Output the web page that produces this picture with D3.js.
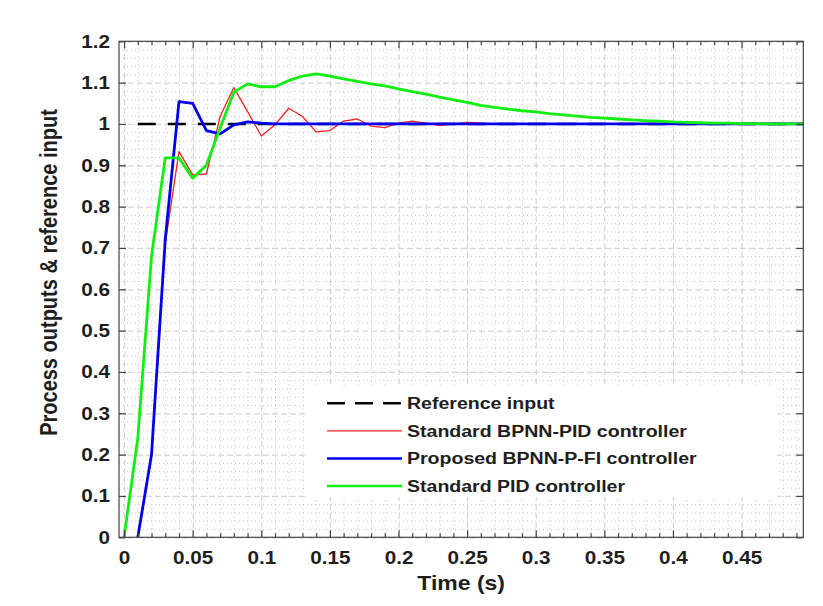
<!DOCTYPE html>
<html>
<head>
<meta charset="utf-8">
<script src="https://cdn.jsdelivr.net/npm/d3@7"></script>
<style>
  body { margin: 0; background: #fff; }
  svg { display: block; }
  text { font-family: "Liberation Sans", Arial, Helvetica, sans-serif; font-weight: bold; fill: #1e1e1e; }
</style>
</head>
<body>
<svg id="chart" width="823" height="606"></svg>
<script>
// Sample instants (s)
const timeSteps = [0.00, 0.01, 0.02, 0.03, 0.04, 0.05, 0.06, 0.07, 0.08, 0.09,
                   0.10, 0.11, 0.12, 0.13, 0.14, 0.15, 0.16, 0.17, 0.18, 0.19,
                   0.20, 0.21, 0.22, 0.23, 0.24, 0.25, 0.26, 0.27, 0.28, 0.29,
                   0.30, 0.31, 0.32, 0.33, 0.34, 0.35, 0.36, 0.37, 0.38, 0.39,
                   0.40, 0.41, 0.42, 0.43, 0.44, 0.45, 0.46, 0.47, 0.48, 0.49, 0.50];

// Reference input (unit step)
const referenceTime  = [0.01, 0.50];
const referenceValue = [1, 1];

// Standard BPNN-PID controller output
const bpnnPidOutput = [null, 0, 0.20, 0.71, 0.933, 0.877, 0.879, 1.018, 1.088, 1.030,
                       0.971, 0.998, 1.038, 1.018, 0.981, 0.984, 1.007, 1.012, 0.995, 0.991,
                       1.002, 1.007, 1.002, 0.996, 1.000, 1.004, 1.002, 1.000, 0.999, 1.000,
                       1, 1, 1, 1, 1, 1, 1, 1, 1, 1,
                       1, 1, 1, 1, 1, 1, 1, 1, 1, 1, 1];

// Proposed BPNN-P-FI controller output
const proposedOutput = [null, 0, 0.20, 0.72, 1.054, 1.050, 0.984, 0.976, 0.998, 1.005,
                        1.002, 1, 1, 1, 1, 1, 1, 1, 1, 1,
                        1, 1, 1, 1, 1, 1, 1, 1, 1, 1,
                        1, 1, 1, 1, 1, 1, 1, 1, 1, 1,
                        1, 1, 1, 1, 1, 1, 1, 1, 1, 1, 1];

// Standard PID controller output
const pidOutput = [0, 0.24, 0.68, 0.918, 0.918, 0.869, 0.900, 0.990, 1.077, 1.097,
                   1.090, 1.090, 1.105, 1.116, 1.121, 1.116, 1.109, 1.103, 1.097, 1.092,
                   1.085, 1.078, 1.072, 1.065, 1.058, 1.052, 1.045, 1.040, 1.036, 1.032,
                   1.029, 1.025, 1.022, 1.019, 1.016, 1.014, 1.012, 1.010, 1.008, 1.007,
                   1.005, 1.004, 1.003, 1.002, 1.002, 1.001, 1.001, 1.000, 1.000, 1.000, 1.000];

// Axis ticks
const xTicks = [0, 0.05, 0.1, 0.15, 0.2, 0.25, 0.3, 0.35, 0.4, 0.45];
const xTickLabels = ["0", "0.05", "0.1", "0.15", "0.2", "0.25", "0.3", "0.35", "0.4", "0.45"];
const yTicks = [0, 0.1, 0.2, 0.3, 0.4, 0.5, 0.6, 0.7, 0.8, 0.9, 1.0, 1.1, 1.2];
const yTickLabels = ["0", "0.1", "0.2", "0.3", "0.4", "0.5", "0.6", "0.7", "0.8", "0.9", "1", "1.1", "1.2"];

const seriesNames = ["Reference input", "Standard BPNN-PID controller",
                     "Proposed BPNN-P-FI controller", "Standard PID controller"];

// ---- layout ----
const svg = d3.select("#chart");
const plot = { left: 119, right: 803.3, top: 41.3, bottom: 537.3 };
const W = plot.right - plot.left, H = plot.bottom - plot.top;
const SX = 1.15;           // horizontal text stretch
const FONT = 18;

const x = d3.scaleLinear().domain([-0.0037, 0.495]).range([plot.left, plot.right]);
const y = d3.scaleLinear().domain([0, 1.2]).range([plot.bottom, plot.top]);

const xMinor = d3.range(0, 50).map(i => i / 100).filter(v => !xTicks.some(t => Math.abs(t - v) < 1e-9));
const yMinor = d3.range(0, 61).map(i => i / 50).filter(v => !yTicks.some(t => Math.abs(t - v) < 1e-9));

svg.append("rect").attr("x", 0).attr("y", 0).attr("width", 823).attr("height", 606).attr("fill", "#fff");

// ---- grid ----
const grid = svg.append("g");
function gridLayer(axisX, axisY, color, dash, width) {
  const gx = grid.append("g").attr("transform", `translate(0,${plot.bottom})`)
    .call(axisX.tickSize(-H).tickFormat(""));
  const gy = grid.append("g").attr("transform", `translate(${plot.left},0)`)
    .call(axisY.tickSize(-W).tickFormat(""));
  [gx, gy].forEach(g => {
    g.select(".domain").remove();
    g.selectAll("line").attr("stroke", color).attr("stroke-dasharray", dash).attr("stroke-width", width);
  });
}
gridLayer(d3.axisBottom(x).tickValues(xMinor), d3.axisLeft(y).tickValues(yMinor), "#c4c4c4", "1,3", 1);
gridLayer(d3.axisBottom(x).tickValues(xTicks), d3.axisLeft(y).tickValues(yTicks), "#d4d4d4", "6,3", 1.2);

// ---- data lines ----
svg.append("clipPath").attr("id", "plotclip")
  .append("rect").attr("x", plot.left).attr("y", plot.top).attr("width", W).attr("height", H);
const lines = svg.append("g").attr("clip-path", "url(#plotclip)");

const line = d3.line().defined(d => d[1] !== null).x(d => x(d[0])).y(d => y(d[1]));
const zipT = vals => timeSteps.map((t, i) => [t, vals[i]]);

const styles = [
  { color: "#000000", width: 2.6, dash: "18,12" },
  { color: "#ee2222", width: 1.3, dash: null },
  { color: "#0000ee", width: 2.8, dash: null },
  { color: "#11ee11", width: 2.8, dash: null }
];
const seriesData = [
  referenceTime.map((t, i) => [t, referenceValue[i]]),
  zipT(bpnnPidOutput),
  zipT(proposedOutput),
  zipT(pidOutput)
];
seriesData.forEach((d, i) => {
  lines.append("path").datum(d).attr("d", line)
    .attr("fill", "none").attr("stroke", styles[i].color)
    .attr("stroke-width", styles[i].width)
    .attr("stroke-linejoin", "round")
    .attr("stroke-dasharray", styles[i].dash);
});

// ---- axes (ticks point inward) ----
function styleAxis(g) {
  g.select(".domain").remove();
  g.selectAll(".tick line").attr("stroke", "#444").attr("stroke-width", 1.2);
}
const bottom = svg.append("g").attr("transform", `translate(0,${plot.bottom})`)
  .call(d3.axisBottom(x).tickValues(xTicks).tickSize(-7).tickPadding(14)
        .tickFormat((d, i) => xTickLabels[i]));
styleAxis(bottom);
svg.append("g").attr("transform", `translate(0,${plot.bottom})`)
  .call(d3.axisBottom(x).tickValues(xMinor).tickSize(-4).tickFormat("")).call(styleAxis);
svg.append("g").attr("transform", `translate(0,${plot.top})`)
  .call(d3.axisTop(x).tickValues(xTicks).tickSize(-7).tickFormat("")).call(styleAxis);
svg.append("g").attr("transform", `translate(0,${plot.top})`)
  .call(d3.axisTop(x).tickValues(xMinor).tickSize(-4).tickFormat("")).call(styleAxis);
const left = svg.append("g").attr("transform", `translate(${plot.left},0)`)
  .call(d3.axisLeft(y).tickValues(yTicks).tickSize(-7).tickPadding(9)
        .tickFormat((d, i) => yTickLabels[i]));
styleAxis(left);
svg.append("g").attr("transform", `translate(${plot.right},0)`)
  .call(d3.axisRight(y).tickValues(yTicks).tickSize(-7).tickFormat("")).call(styleAxis);

[bottom, left].forEach(g => {
  g.selectAll(".tick text")
    .attr("font-size", FONT).attr("font-family", null).attr("fill", "#1e1e1e")
    .each(function () {
      const t = d3.select(this);
      const x0 = +t.attr("x") || 0;
      t.attr("x", x0 / SX).attr("transform", `scale(${SX},1)`);
    });
  g.attr("font-family", null).attr("font-size", null);
});

svg.append("rect").attr("x", plot.left).attr("y", plot.top).attr("width", W).attr("height", H)
  .attr("fill", "none").attr("stroke", "#444").attr("stroke-width", 1.2);

// ---- axis titles ----
svg.append("text")
  .attr("transform", `translate(${(plot.left + plot.right) / 2},590) scale(${SX},1)`)
  .attr("text-anchor", "middle").attr("font-size", 20).text("Time (s)");
svg.append("text")
  .attr("transform", `translate(57,272.5) scale(${SX},1) rotate(-90)`)
  .attr("text-anchor", "middle").attr("font-size", 20).text("Process outputs & reference input");

// ---- legend ----
const legend = svg.append("g");
legend.append("rect").attr("x", 305).attr("y", 386).attr("width", 472).attr("height", 111).attr("fill", "#fff");
const rowY = d3.scalePoint().domain(seriesNames).range([403.3, 486]);
seriesNames.forEach((name, i) => {
  const cy = rowY(name);
  legend.append("line").attr("x1", 327).attr("x2", 402).attr("y1", cy).attr("y2", cy)
    .attr("stroke", styles[i].color)
    .attr("stroke-width", i === 1 ? 1.3 : 2.4)
    .attr("stroke-dasharray", i === 0 ? "18,10" : null);
  legend.append("text")
    .attr("transform", `translate(407,${cy + 6}) scale(${SX},1)`)
    .attr("font-size", 17).text(name);
});
</script>
</body>
</html>
